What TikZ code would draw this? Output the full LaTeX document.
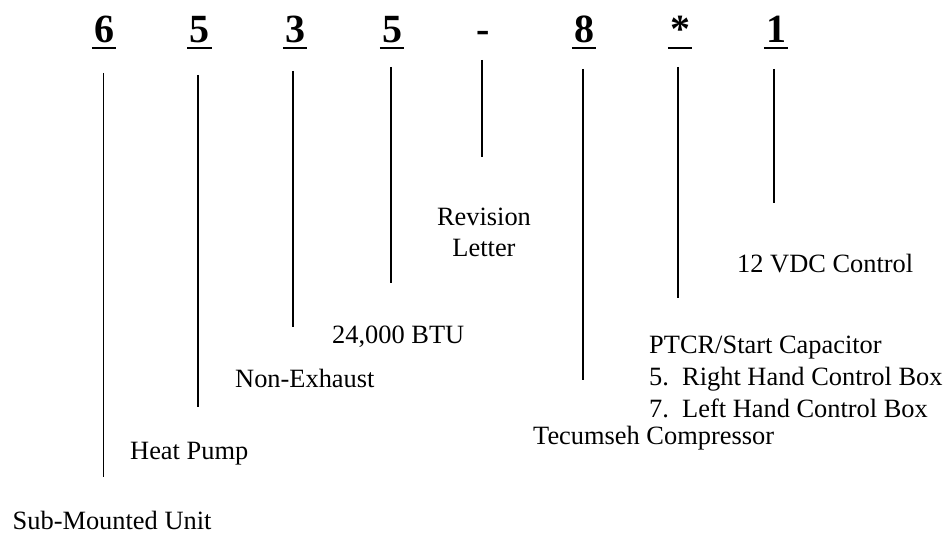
\documentclass[tikz,border=0pt]{standalone}
\usepackage{fontspec}
\setmainfont{Liberation Serif}
\begin{document}
\begin{tikzpicture}[x=1pt,y=-1pt,
  digit/.style={inner sep=0pt, anchor=base, font=\fontsize{40}{40}\selectfont\bfseries},
  lbl/.style={inner sep=0pt, anchor=base west, font=\fontsize{26.4}{32}\selectfont, align=left},
  clbl/.style={inner sep=0pt, anchor=base, font=\fontsize{26.4}{31}\selectfont, align=center},
  ul/.style={line width=2pt},
  lead/.style={line width=1.9pt}]
\useasboundingbox (0,0) rectangle (948,535);
% code characters
\node[digit] (d1) at (104,43) {\makebox[24pt]{6}};
\node[digit] (d2) at (199.5,43) {\makebox[24pt]{5}};
\node[digit] (d3) at (295,43) {\makebox[24pt]{3}};
\node[digit] (d4) at (392,43) {\makebox[24pt]{5}};
\node[digit] (d5) at (483,43) {\makebox[24pt]{-}};
\node[digit] (d6) at (584,43) {\makebox[24pt]{8}};
\node[digit] (d7) at (680,43) {\makebox[24pt]{*}};
\node[digit] (d8) at (776,43) {\makebox[24pt]{1}};
\foreach \n in {d1,d2,d3,d4,d6,d7,d8}
  \draw[ul] ([yshift=-5pt]\n.base west) -- ([yshift=-5pt]\n.base east);
% leader line end points
\coordinate (t1) at (103.5,73);  \coordinate (b1) at (103.5,477);
\coordinate (t2) at (198,75);    \coordinate (b2) at (198,407);
\coordinate (t3) at (293,71);    \coordinate (b3) at (293,327);
\coordinate (t4) at (391,67);    \coordinate (b4) at (391,283);
\coordinate (t5) at (482,60);    \coordinate (b5) at (482,157);
\coordinate (t6) at (583,69);    \coordinate (b6) at (583,380);
\coordinate (t7) at (678,67);    \coordinate (b7) at (678,298);
\coordinate (t8) at (774,69);    \coordinate (b8) at (774,203);
\foreach \i in {1,...,8}
  \draw[lead] (t\i) -- (b\i);
% labels
\node[lbl] (l1) at (12.5,529) {Sub-Mounted Unit};
\node[lbl] (l2) at (130,459) {Heat Pump};
\node[lbl] (l3) at (235,387) {Non-Exhaust};
\node[lbl] (l4) at (332,343) {24,000 BTU};
\node[clbl] (l5) at (484,256) {Revision\\Letter};
\node[lbl] (l6) at (533,444) {Tecumseh Compressor};
\node[lbl] (l7) at (649,417) {PTCR/Start Capacitor\\5.\ \ Right Hand Control Box\\7.\ \ Left Hand Control Box};
\node[lbl] (l8) at (737,272) {12 VDC Control};
\end{tikzpicture}
\end{document}
